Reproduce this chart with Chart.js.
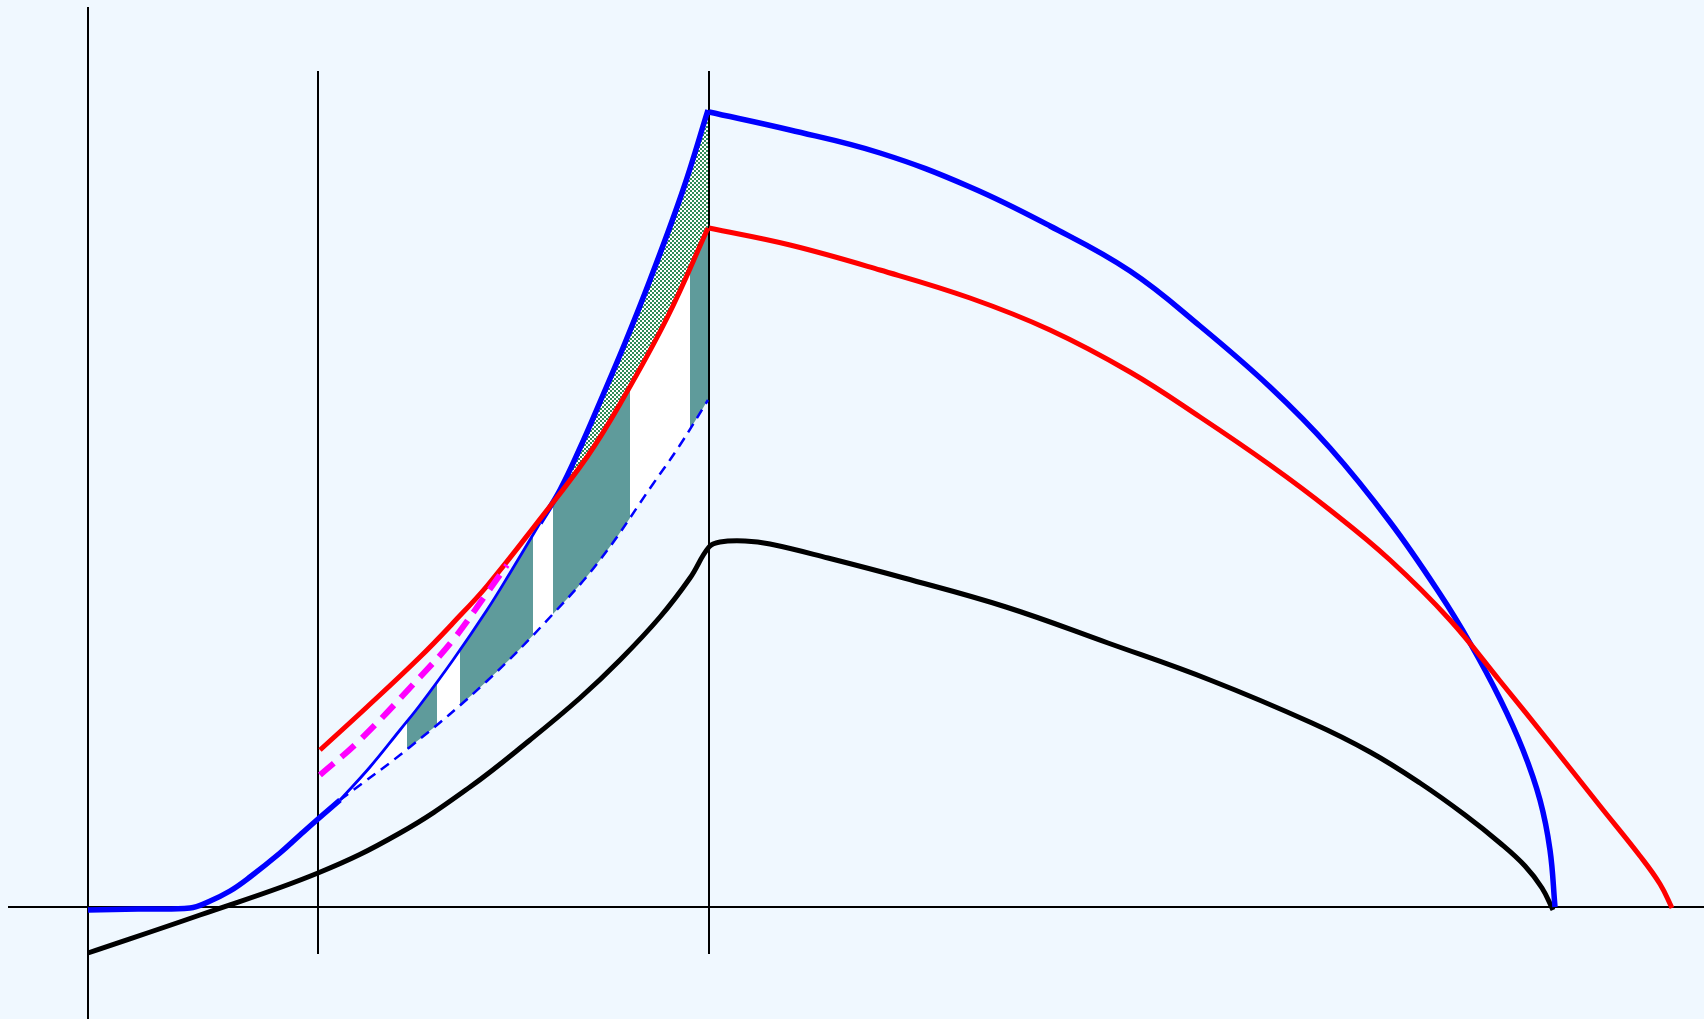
<!DOCTYPE html>
<html>
<head>
<meta charset="utf-8">
<script src="https://cdn.jsdelivr.net/npm/chart.js@4.4.1/dist/chart.umd.min.js"></script>
<style>
  html, body { margin: 0; padding: 0; background: #f0f8ff; overflow: hidden; }
  #wrap { position: relative; width: 1704px; height: 1019px; }
</style>
</head>
<body>
<div id="wrap"><canvas id="cycleChart"></canvas></div>
<script>
const xRange = [-88, 1616];
const yRange = [-112, 907];

const hAxis = [[-80, 0], [1616, 0]];
const vAxis1 = [[0, 900], [0, -112]];
const vAxis2 = [[230, 836], [230, -47]];
const vAxis3 = [[621, 836], [621, -47]];

const blueLow = [[0, -3], [50, -2], [102, -1], [120, 5], [142, 16], [162, 30], [192, 54], [212, 72], [230, 88], [252, 107]];
const blueThin = [[252, 107], [282, 140], [312, 177], [332, 202], [365, 247], [399, 297], [422, 334], [452, 384]];
const blueRise = [[452, 384], [472, 417], [492, 459], [512, 505], [537, 564], [562, 627], [595, 717], [620, 797]];
const blueFall = [[621, 795], [702, 777], [792, 754], [882, 720], [962, 681], [1042, 636], [1112, 581],
  [1182, 520], [1242, 459], [1302, 385], [1352, 313], [1382, 264], [1412, 208], [1435, 157],
  [1452, 107], [1462, 57], [1467, 0]];
const blueDashed = [[252, 107], [322, 160], [399, 226], [465, 293], [512, 347], [565, 423], [592, 462], [620, 507]];

const redRise = [[232, 157], [279, 200], [332, 250], [365, 284], [399, 321], [449, 384], [499, 450],
  [532, 503], [579, 589], [620, 679]];
const redFall = [[621, 679], [702, 662], [792, 637], [882, 609], [962, 577], [1042, 535], [1112, 490],
  [1182, 442], [1242, 397], [1302, 347], [1362, 287], [1412, 226], [1462, 164], [1512, 101],
  [1552, 51], [1572, 23], [1584, -1]];

const magentaDashed = [[232, 132], [272, 167], [332, 230], [365, 267], [399, 314], [419, 342]];

const black = [[0, -46], [112, -8], [230, 34], [312, 74], [382, 120], [442, 167], [492, 209], [532, 247],
  [572, 290], [602, 329], [621, 360], [632, 365], [657, 366], [682, 363], [740, 349], [816, 329],
  [918, 300], [1020, 264], [1122, 227], [1224, 184], [1282, 155], [1332, 124], [1377, 92],
  [1412, 64], [1437, 41], [1454, 19], [1465, -3]];

// upper edge of the shaded area: thin blue up to the crossing, red after it
const crossX = blueThin[blueThin.length - 1][0];
const shadeTop = blueThin.concat(redRise.filter(p => p[0] > crossX));

const teal = "#5f9b9b";
const tealBands = [[319, 349], [372, 445], [465, 542], [602, 621]];

const pts = (a) => a.map(([x, y]) => ({ x, y }));

const canvas = document.getElementById("cycleChart");
const ctx = canvas.getContext("2d");

// small green / white checker
const tile = document.createElement("canvas");
tile.width = 4;
tile.height = 4;
const tctx = tile.getContext("2d");
tctx.fillStyle = "#ffffff";
tctx.fillRect(0, 0, 4, 4);
tctx.fillStyle = "#2e8b57";
tctx.fillRect(0, 0, 2, 2);
tctx.fillRect(2, 2, 2, 2);
const checker = ctx.createPattern(tile, "repeat");

function bandFill(context) {
  const chart = context.chart;
  if (!chart.chartArea) return teal;
  const xs = chart.scales.x;
  const x0 = blueDashed[0][0];
  const x1 = blueDashed[blueDashed.length - 1][0] + 1;
  const g = chart.ctx.createLinearGradient(xs.getPixelForValue(x0), 0, xs.getPixelForValue(x1), 0);
  const pos = (v) => Math.min(1, Math.max(0, (v - x0) / (x1 - x0)));
  g.addColorStop(0, "#ffffff");
  tealBands.forEach(([a, b]) => {
    g.addColorStop(pos(a), "#ffffff");
    g.addColorStop(pos(a), teal);
    g.addColorStop(pos(b), teal);
    g.addColorStop(pos(b), "#ffffff");
  });
  g.addColorStop(1, "#ffffff");
  return g;
}

function line(data, color, width, extra) {
  return Object.assign({
    data: pts(data),
    borderColor: color,
    borderWidth: width,
    pointRadius: 0,
    fill: false,
    tension: 0.4,
    order: 5,
  }, extra || {});
}

const datasets = [
  line(hAxis, "#000", 2, { order: 20, tension: 0 }),                                         // 0
  line(vAxis1, "#000", 2, { order: 20, tension: 0 }),                                        // 1
  line(vAxis2, "#000", 2, { order: 20, tension: 0 }),                                        // 2
  line(vAxis3, "#000", 2, { order: 20, tension: 0 }),                                        // 3
  line(shadeTop, "rgba(0,0,0,0)", 0, { order: 30 }),                                         // 4
  line(blueDashed, "#0000ff", 2.5, { borderDash: [10, 7], fill: 4, backgroundColor: bandFill }), // 5
  line(magentaDashed, "#ff00ff", 6, { borderDash: [18, 10] }),                               // 6
  line(redRise, "#ff0000", 5),                                                               // 7
  line(redFall, "#ff0000", 5),                                                               // 8
  line(blueLow, "#0000ff", 5.5),                                                             // 9
  line(blueThin, "#0000ff", 2.8),                                                            // 10
  line(blueRise, "#0000ff", 5.5, { fill: 7, backgroundColor: checker }),                     // 11
  line(blueFall, "#0000ff", 5.5),                                                            // 12
  line(black, "#000000", 5),                                                                 // 13
];

new Chart(ctx, {
  type: "line",
  data: { datasets },
  options: {
    responsive: true,
    maintainAspectRatio: false,
    animation: false,
    events: [],
    layout: { padding: 0 },
    scales: {
      x: { type: "linear", display: false, min: xRange[0], max: xRange[1] },
      y: { type: "linear", display: false, min: yRange[0], max: yRange[1] },
    },
    plugins: {
      legend: { display: false },
      tooltip: { enabled: false },
      filler: { drawTime: "beforeDatasetsDraw", propagate: true },
    },
  },
});
</script>
</body>
</html>
